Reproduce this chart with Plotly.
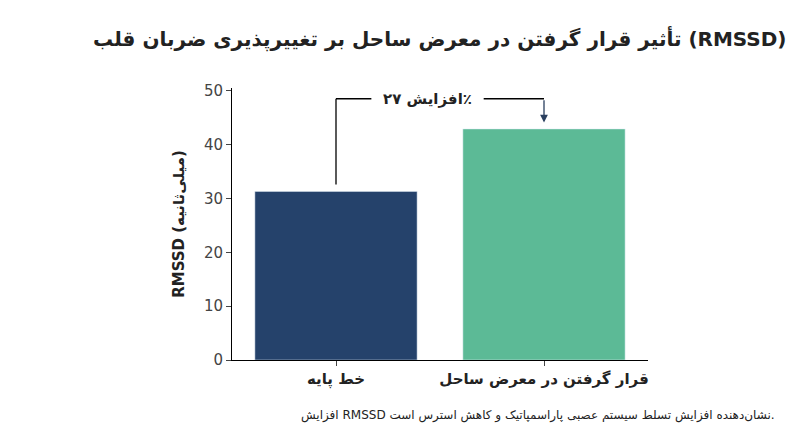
import plotly.graph_objects as go

categories = ["خط پایه", "قرار گرفتن در معرض ساحل"]
rmssd = [31.3, 42.9]
colors = ["#25426b", "#5cba96"]
y_ticks = [0, 10, 20, 30, 40, 50]
change_label = "افزایش ۲۷٪"

font = "DejaVu Sans"
bracket_y = 48.5
label_x = 0.44
gap = 0.27

fig = go.Figure(go.Bar(x=[0, 1], y=rmssd, marker_color=colors, width=0.78))

line = dict(color="black", width=1.3)
fig.add_shape(type="line", x0=0, x1=0, y0=rmssd[0] + 1.3, y1=bracket_y, line=line)
fig.add_shape(type="line", x0=0, x1=label_x - gap, y0=bracket_y, y1=bracket_y, line=line)
fig.add_shape(type="line", x0=label_x + gap, x1=1, y0=bracket_y, y1=bracket_y, line=line)
fig.add_annotation(x=1, y=rmssd[1] + 1.2, ax=1, ay=bracket_y, axref="x", ayref="y",
                   showarrow=True, arrowhead=2, arrowsize=1.2, arrowwidth=1.3, text="")
fig.add_annotation(x=label_x, y=bracket_y, text="<b>" + change_label + "</b>",
                   showarrow=False, font=dict(size=15, color="#222"))

fig.add_annotation(x=0.5, y=1.24, xref="paper", yref="paper", xanchor="center",
                   text="<b>تأثیر قرار گرفتن در معرض ساحل بر تغییرپذیری ضربان قلب (RMSSD)</b>",
                   showarrow=False, font=dict(size=20, color="#222"))
fig.add_annotation(x=1.31, y=-0.24, xref="paper", yref="paper", xanchor="right",
                   text="افزایش RMSSD نشان‌دهنده افزایش تسلط سیستم عصبی پاراسمپاتیک و کاهش استرس است.",
                   showarrow=False, font=dict(size=12, color="#222"))

fig.update_layout(
    width=800, height=447, showlegend=False,
    plot_bgcolor="white", paper_bgcolor="white",
    font=dict(family=font, size=14, color="#222"),
    margin=dict(l=224, r=160, t=80, b=95),
    xaxis=dict(range=[-0.5, 1.5], tickvals=[0, 1],
               ticktext=["<b>" + c + "</b>" for c in categories],
               showline=True, linecolor="black", ticks="outside", tickfont=dict(size=15)),
    yaxis=dict(range=[0, 50.5], tickvals=y_ticks, showgrid=False, zeroline=False,
               showline=True, linecolor="black", ticks="outside", tickfont=dict(size=15, color="#444"),
               title=dict(text="<b>RMSSD (میلی‌ثانیه)</b>", font=dict(size=15))),
)

fig.write_html("out.html")
